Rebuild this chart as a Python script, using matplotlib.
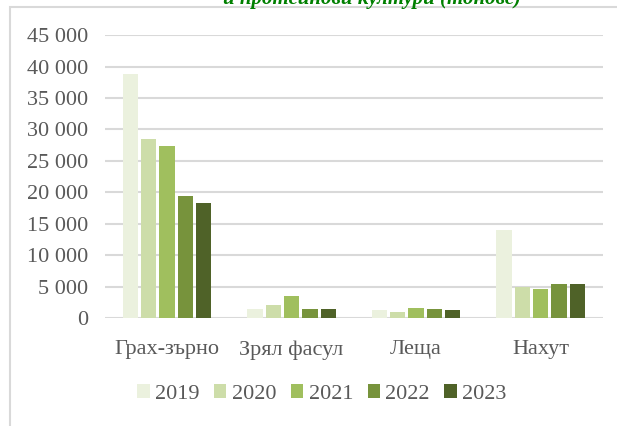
import numpy as np
import matplotlib.pyplot as plt
from matplotlib.patches import Rectangle
from matplotlib.ticker import FuncFormatter

# Data (tonnes)
crops = ['Грах-зърно', 'Зрял фасул', 'Леща', 'Нахут']
years = ['2019', '2020', '2021', '2022', '2023']
v2019 = [38800, 1400, 1300, 14000]
v2020 = [28500, 2100, 900, 5000]
v2021 = [27400, 3450, 1650, 4600]
v2022 = [19450, 1400, 1450, 5350]
v2023 = [18300, 1400, 1300, 5350]
series = [v2019, v2020, v2021, v2022, v2023]
colors = ['#EBF1DE', '#CDDDA9', '#A0BF5E', '#77933C', '#4F6228']

plt.rcParams['font.family'] = ['Liberation Serif', 'DejaVu Serif']

fig = plt.figure(figsize=(6.17, 4.26), dpi=100)
ax = fig.add_axes([0.170, 0.2535, 0.807, 0.664])

x = np.arange(len(crops))
pitch = 0.147
width = 0.123
for i, (vals, c) in enumerate(zip(series, colors)):
    ax.bar(x + (i - 2) * pitch, vals, width, color=c, label=years[i], zorder=3)

ax.set_xlim(-0.5, 3.5)
ax.set_ylim(0, 45000)
ax.set_yticks(np.arange(0, 45001, 5000))
ax.yaxis.set_major_formatter(FuncFormatter(lambda v, p: f'{int(v):,}'.replace(',', ' ')))
ax.set_xticks(x)
ax.set_xticklabels(crops)
ax.tick_params(axis='both', length=0, labelsize=16, colors='#595959')
ax.tick_params(axis='y', pad=12)
ax.tick_params(axis='x', pad=16)
ax.grid(axis='y', color='#D9D9D9', linewidth=1.5, zorder=0)
for s in ax.spines.values():
    s.set_visible(False)

fig.legend(loc='center', bbox_to_anchor=(322 / 617, 1 - 394 / 426), ncol=5,
           frameon=False, fontsize=16, handlelength=0.55, handleheight=0.55,
           handletextpad=0.25, columnspacing=0.65, labelcolor='#595959')

# chart frame (cut off on the right and bottom)
fig.patches.append(Rectangle((10 / 617, -0.1), 1.2, 1 - 7 / 426 + 0.1,
                             transform=fig.transFigure, fill=False,
                             edgecolor='#D9D9D9', linewidth=1.5))

# title, mostly cut off at the top edge as in the source
fig.text(372 / 617, 1 - 4 / 426, 'и протеинови култури (тонове)', ha='center',
         va='baseline', fontsize=15, fontweight='bold', fontstyle='italic',
         color='#008000')

fig.savefig('out.png', dpi=100)
